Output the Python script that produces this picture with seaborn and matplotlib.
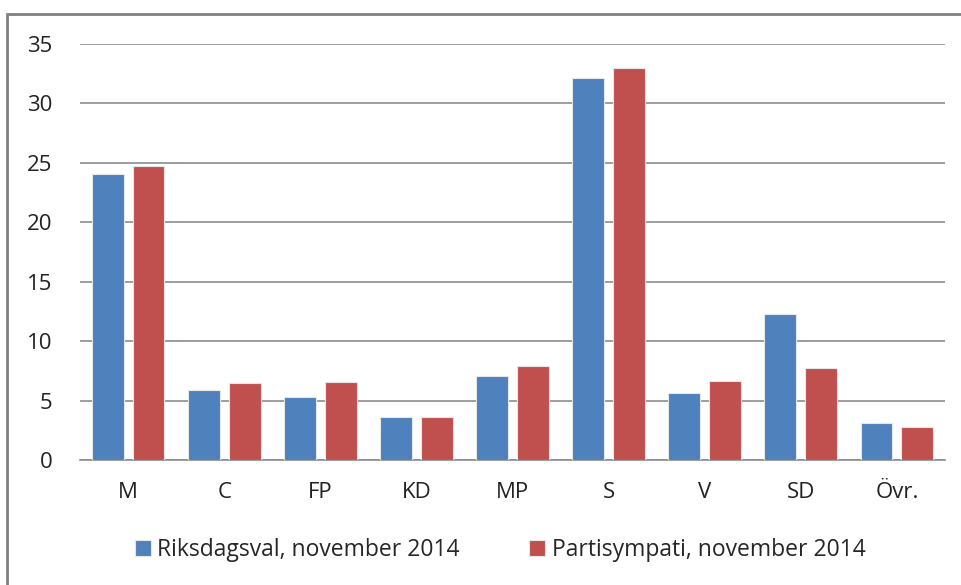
import seaborn as sns
import matplotlib.pyplot as plt
import pandas as pd
from matplotlib.patches import Rectangle

# party labels and the two series (percent)
partier = ["M", "C", "FP", "KD", "MP", "S", "V", "SD", "Övr."]
riksdagsval = [24.1, 5.9, 5.3, 3.6, 7.1, 32.1, 5.65, 12.3, 3.1]
partisympati = [24.7, 6.5, 6.6, 3.6, 7.9, 33.0, 6.65, 7.7, 2.8]
serier = ["Riksdagsval, november 2014", "Partisympati, november 2014"]

df = pd.DataFrame({
    "parti": partier * 2,
    "värde": riksdagsval + partisympati,
    "serie": [serier[0]] * len(partier) + [serier[1]] * len(partier),
})

sns.set_style("white")
plt.rcParams["font.family"] = ["Open Sans", "DejaVu Sans"]

fig = plt.figure(figsize=(9.61, 5.85), dpi=100)
ax = fig.add_axes([80 / 961, 1 - 460 / 585, 865 / 961, 416 / 585])

sns.barplot(data=df, x="parti", y="värde", hue="serie", ax=ax,
            palette=["#4F81BD", "#C0504D"], width=0.85, gap=0.22,
            edgecolor="#e6e6e6", linewidth=0.8, saturation=1, zorder=3)

ax.set_ylim(0, 35)
ax.set_yticks(range(0, 36, 5))
ax.set_xlim(-0.5, len(partier) - 0.5)
ax.grid(axis="y", color="#8c8c8c", linewidth=1.2, zorder=0)
ax.set_axisbelow(True)
for s in ["top", "right", "left"]:
    ax.spines[s].set_visible(False)
ax.spines["bottom"].set_color("#8c8c8c")
ax.spines["bottom"].set_linewidth(1.2)
ax.tick_params(axis="both", length=0, labelsize=16, colors="#222222")
ax.tick_params(axis="y", pad=20)
ax.tick_params(axis="x", pad=16)
ax.set_xlabel("")
ax.set_ylabel("")

ax.legend(loc="center", bbox_to_anchor=(500 / 961, 1 - 550 / 585), bbox_transform=fig.transFigure,
          ncol=2, frameon=False, fontsize=16.5, handlelength=0.7, handleheight=0.7,
          handletextpad=0.3, columnspacing=3.0)

# outer chart border
fig.patches.append(Rectangle((7 / 961, -0.1), 1.1, 1 - 14 / 585 + 0.1,
                             transform=fig.transFigure, fill=False,
                             edgecolor="#808080", linewidth=2))

fig.savefig("out.png", dpi=100)
